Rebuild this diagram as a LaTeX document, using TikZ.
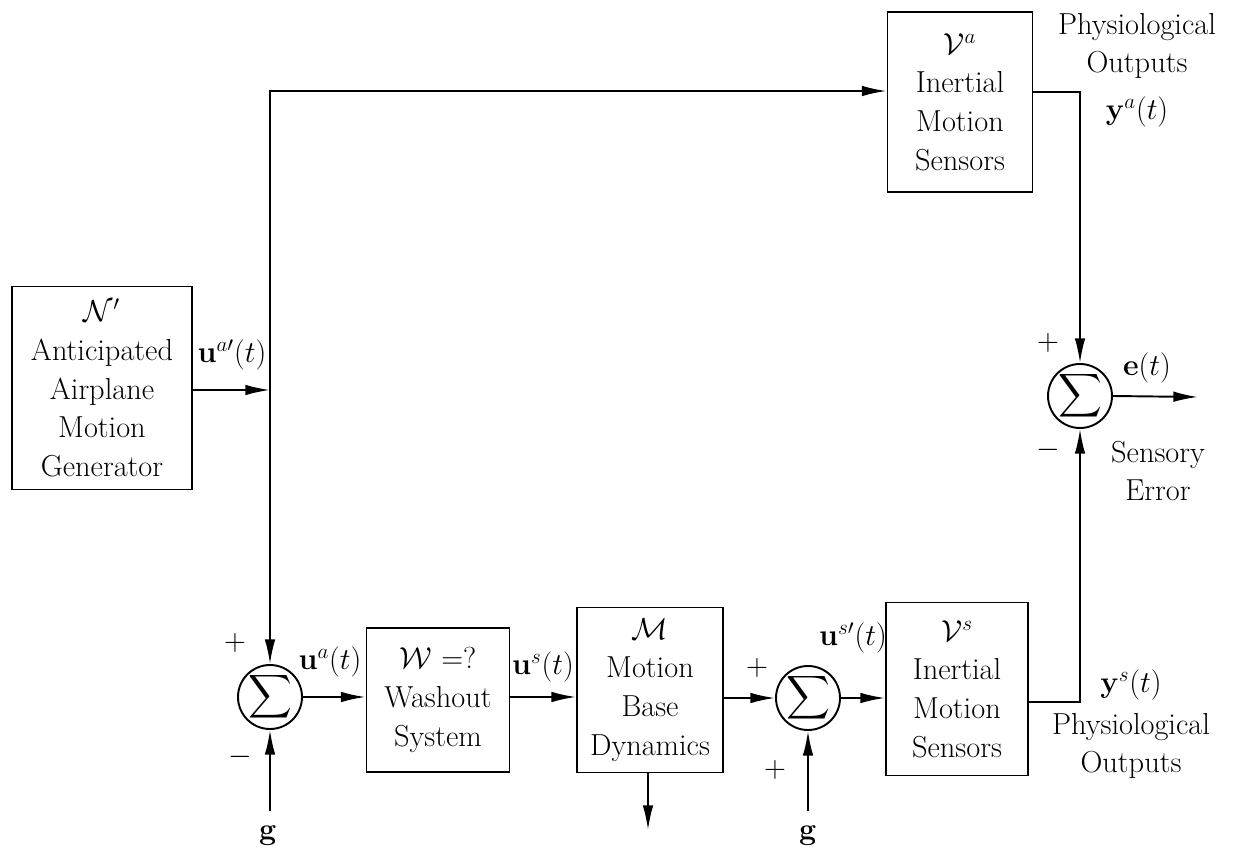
\documentclass[tikz,border=0pt]{standalone}
\usepackage{amsmath,amssymb}
\usepackage{xcolor}
\usepackage{tikz}
\usetikzlibrary{arrows.meta,positioning}

\begin{document}
\begin{tikzpicture}[
    x=0.02cm, y=-0.02cm,
    >={Latex[length=14pt,width=6pt]},
    line width=1.1pt,
    font=\LARGE,
    block/.style={draw, align=center, inner sep=0pt},
    sumnode/.style={draw, circle, minimum size=1.28cm, inner sep=-2pt},
    lbl/.style={align=center, inner sep=0pt}
]
    \useasboundingbox (0,0) rectangle (1247,854);

    % Define standard coordinates
    \coordinate (j1)    at (270, 390);
    \coordinate (top)   at (270, 91);
    \coordinate (ya)    at (1080, 92);
    \coordinate (ys)    at (1080, 702);
    \coordinate (eout)  at (1198, 397);
    \coordinate (g1)    at (270, 811);
    \coordinate (g2)    at (808, 811);
    \coordinate (mdown) at (648, 830);

    % Blocks
    \node[block, minimum width=3.6cm, minimum height=4.06cm] (nprime) at (102, 388)
        {$\mathcal{N}'$\\Anticipated\\Airplane\\Motion\\Generator};
    \node[block, minimum width=2.9cm, minimum height=3.6cm] (va) at (960, 102)
        {$\mathcal{V}^a$\\Inertial\\Motion\\Sensors};
    \node[block, minimum width=2.86cm, minimum height=2.88cm] (wo) at (438, 700)
        {$\mathcal{W}\ {=}?$\\Washout\\System};
    \node[block, minimum width=2.92cm, minimum height=3.3cm] (mb) at (650, 690)
        {$\mathcal{M}$\\Motion\\Base\\Dynamics};
    \node[block, minimum width=2.84cm, minimum height=3.46cm] (vs) at (957, 689)
        {$\mathcal{V}^s$\\Inertial\\Motion\\Sensors};

    % Summing junctions
    \node[sumnode] (sum1) at (270, 697) {$\displaystyle\sum$};
    \node[sumnode] (sum2) at (808, 698) {$\displaystyle\sum$};
    \node[sumnode] (sum3) at (1080, 396) {$\displaystyle\sum$};

    % Anticipated motion into the junction line
    \draw[->] (nprime.east |- j1) -- (j1);
    \draw[->] (j1) -- (top) -- (va.west |- top);
    \draw[->] (j1) -- (sum1.north);

    % Lower chain
    \draw[->] (sum1.east) -- (sum1.east -| wo.west);
    \draw[->] (wo.east |- sum1) -- (mb.west |- sum1);
    \draw[->] (mb.east |- sum2) -- (sum2.west);
    \draw[->] (sum2.east) -- (vs.west |- sum2);
    \draw[->] (mb.south -| mdown) -- (mdown);

    % Gravity inputs
    \draw[->] (g1) -- (sum1.south);
    \draw[->] (g2) -- (sum2.south);
    \node[lbl] (gl1) at (268, 836) {$\mathbf{g}$};
    \node[lbl] (gl2) at (808, 836) {$\mathbf{g}$};

    % Sensor outputs to the error junction
    \draw[->] (va.east |- ya) -- (ya) -- (sum3.north);
    \draw[->] (vs.east |- ys) -- (ys) -- (sum3.south);
    \draw[->] (sum3.east) -- (eout);

    % Signal labels
    \node[lbl] (uap) at (232, 355) {$\mathbf{u}^{a\prime}(t)$};
    \node[lbl] (ua)  at (330, 662) {$\mathbf{u}^{a}(t)$};
    \node[lbl] (us)  at (543, 667) {$\mathbf{u}^{s}(t)$};
    \node[lbl] (usp) at (853, 638) {$\mathbf{u}^{s\prime}(t)$};
    \node[lbl] (yat) at (1137, 112) {$\mathbf{y}^{a}(t)$};
    \node[lbl] (yst) at (1131, 685) {$\mathbf{y}^{s}(t)$};
    \node[lbl] (et)  at (1147, 368) {$\mathbf{e}(t)$};

    % Text labels
    \node[lbl] (poa) at (1137, 46)  {Physiological\\Outputs};
    \node[lbl] (pos) at (1131, 746) {Physiological\\Outputs};
    \node[lbl] (serr) at (1158, 471) {Sensory\\Error};

    % Signs
    \node[lbl] at (235, 643) {$+$};
    \node[lbl] at (240, 757) {$-$};
    \node[lbl] at (757, 668) {$+$};
    \node[lbl] at (775, 770) {$+$};
    \node[lbl] at (1048, 343) {$+$};
    \node[lbl] at (1048, 450) {$-$};

\end{tikzpicture}
\end{document}
